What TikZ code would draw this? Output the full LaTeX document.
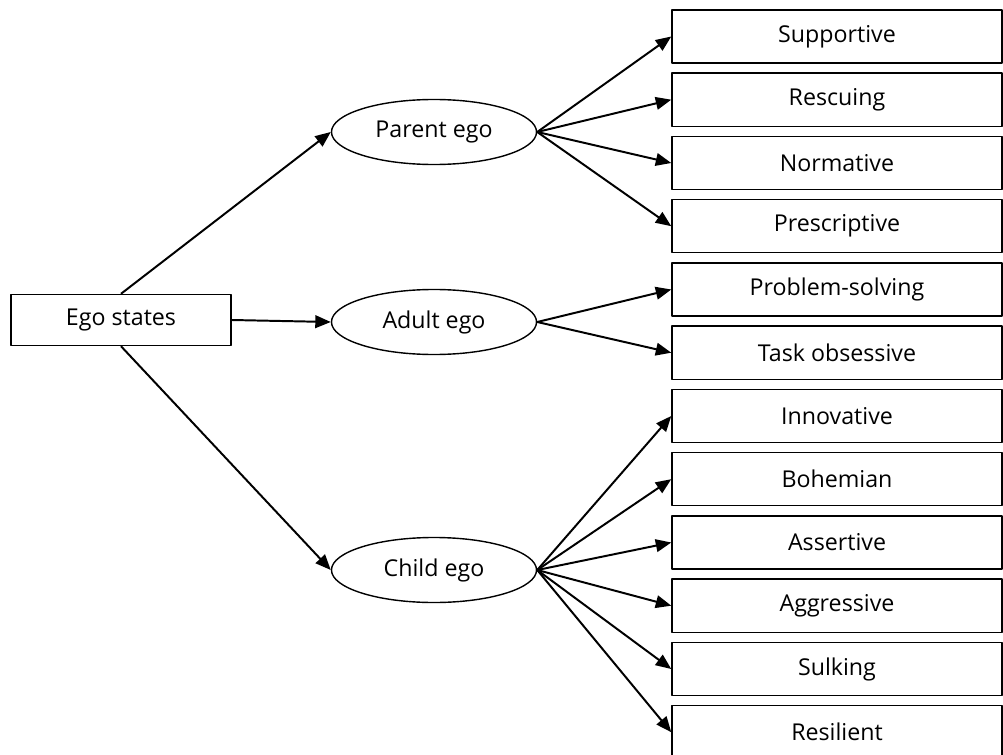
\documentclass[tikz,border=0pt]{standalone}
\usepackage{fontspec}
\setmainfont{Open Sans}
\usetikzlibrary{shapes.geometric,arrows.meta}

\begin{document}
\begin{tikzpicture}[x=0.025cm,y=-0.025cm,line join=round,>={Triangle[length=11pt,width=9pt]},
	font=\fontsize{16.5}{19}\selectfont,
	item/.style={draw,line width=1pt,minimum width=8.25cm,minimum height=1.325cm,inner sep=0pt},
	egobox/.style={draw,line width=1pt,minimum width=5.5cm,minimum height=1.275cm,inner sep=0pt},
	state/.style={draw,ellipse,line width=1pt,minimum width=5.125cm,minimum height=1.625cm,inner sep=0pt},
	link/.style={->,line width=1.4pt}]
	\useasboundingbox (0,0) rectangle (1003,754);
	\clip (0,0) rectangle (1003,754);
	
	% root and the three states
	\node[egobox] (ego) at (121,320) {Ego states};
	\node[state] (parent) at (434,132) {Parent ego};
	\node[state] (adult) at (434,322) {Adult ego};
	\node[state] (child) at (434,570) {Child ego};
	
	% right column
	\node[item] (supportive) at (837,36.5) {Supportive};
	\node[item] (rescuing) at (837,99.7) {Rescuing};
	\node[item] (normative) at (837,163) {Normative};
	\node[item] (prescriptive) at (837,226.2) {Prescriptive};
	\node[item] (problem) at (837,289.5) {Problem-solving};
	\node[item] (task) at (837,352.7) {Task obsessive};
	\node[item] (innovative) at (837,416) {Innovative};
	\node[item] (bohemian) at (837,479.2) {Bohemian};
	\node[item] (assertive) at (837,542.5) {Assertive};
	\node[item] (aggressive) at (837,605.7) {Aggressive};
	\node[item] (sulking) at (837,669) {Sulking};
	\node[item] (resilient) at (837,732.2) {Resilient};
	
	\draw[link] (ego.north)--(parent.west);
	\draw[link] (ego.east)--(adult.west);
	\draw[link] (ego.south)--(child.west);
	
	\draw[link] (parent.east)--(supportive.west);
	\draw[link] (parent.east)--(rescuing.west);
	\draw[link] (parent.east)--(normative.west);
	\draw[link] (parent.east)--(prescriptive.west);
	
	\draw[link] (adult.east)--(problem.west);
	\draw[link] (adult.east)--(task.west);
	
	\draw[link] (child.east)--(innovative.west);
	\draw[link] (child.east)--(bohemian.west);
	\draw[link] (child.east)--(assertive.west);
	\draw[link] (child.east)--(aggressive.west);
	\draw[link] (child.east)--(sulking.west);
	\draw[link] (child.east)--(resilient.west);
\end{tikzpicture}
\end{document}
